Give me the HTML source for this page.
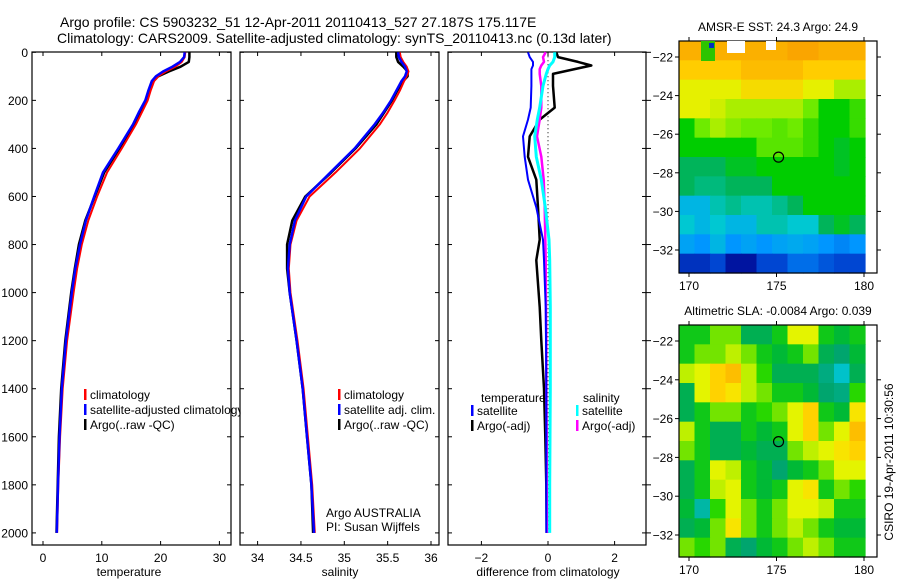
<!DOCTYPE html>
<html><head><meta charset="utf-8"><style>
body{margin:0;background:#fff;}
svg{display:block;font-family:"Liberation Sans",sans-serif;}
</style></head><body>
<svg id="fig" width="900" height="580" viewBox="0 0 900 580">
<rect width="900" height="580" fill="#fff"/>
<text x="60" y="27" font-size="14">Argo profile: CS 5903232_51 12-Apr-2011 20110413_527 27.187S 175.117E</text>
<text x="57" y="43" font-size="14">Climatology: CARS2009. Satellite-adjusted climatology: synTS_20110413.nc (0.13d later)</text>
<g id="plots"></g>
</svg>
<script>
// ---------- data ----------
const depths = [0,20,40,60,80,100,120,160,200,250,300,400,500,600,700,800,900,1000,1200,1400,1600,1800,2000];
const tempClim = [24.2,24.1,23.6,22.5,20.9,19.6,18.9,18.3,17.8,16.8,15.8,13.4,10.9,9.2,7.7,6.6,5.8,5.2,4.1,3.35,2.9,2.6,2.4];
const tempSat  = [24.1,24.0,23.3,22.0,20.4,19.2,18.5,17.9,17.4,16.3,15.3,12.8,10.2,8.7,7.3,6.3,5.5,4.9,3.9,3.2,2.8,2.55,2.35];
const tempArgo = [24.9,24.9,24.8,23.4,21.4,19.6,18.8,18.1,17.6,16.6,15.5,13.0,10.4,8.8,7.2,6.1,5.4,4.8,3.8,3.1,2.7,2.5,2.3];
const salClim = [35.64,35.65,35.68,35.72,35.74,35.72,35.69,35.64,35.58,35.50,35.41,35.18,34.90,34.60,34.45,34.38,34.36,34.38,34.46,34.53,34.58,34.63,34.66];
const salSat  = [35.62,35.63,35.66,35.70,35.72,35.70,35.66,35.60,35.54,35.45,35.35,35.12,34.84,34.56,34.43,34.37,34.35,34.37,34.45,34.52,34.57,34.62,34.65];
const salArgo = [35.60,35.60,35.62,35.68,35.73,35.73,35.68,35.61,35.55,35.46,35.37,35.13,34.85,34.55,34.40,34.34,34.34,34.37,34.45,34.52,34.57,34.62,34.64];
const diffDepths = [0,20,40,55,70,90,140,230,280,350,435,530,645,780,865,1060,1200,1400,1600,1800,2000];
const diffTempSat  = [-0.6,-0.55,-0.45,-0.45,-0.5,-0.5,-0.5,-0.52,-0.6,-0.75,-0.7,-0.6,-0.35,-0.15,-0.12,-0.07,-0.06,-0.05,-0.05,-0.05,-0.05];
const diffTempArgo = [0.25,0.3,0.9,1.3,0.8,0.15,0.15,0.2,-0.25,-0.55,-0.6,-0.35,-0.3,-0.25,-0.35,-0.25,-0.2,-0.12,-0.08,-0.05,-0.04];
const diffSalSat   = [0.2,0.2,0.15,0.05,0,-0.05,-0.15,-0.25,-0.32,-0.4,-0.35,-0.2,-0.08,0.03,0.05,0.07,0.07,0.07,0.06,0.05,0.05];
const diffSalArgo  = [-0.07,-0.15,-0.12,-0.2,-0.25,-0.25,-0.2,-0.2,-0.25,-0.33,-0.2,-0.13,-0.1,-0.08,-0.07,-0.06,-0.05,-0.05,-0.04,-0.04,-0.03];
const depthTicks = [0,200,400,600,800,1000,1200,1400,1600,1800,2000];
const tempTicks = [0,10,20,30];
const salTicks = [34,34.5,35,35.5,36];
const diffTicks = [-2,0,2];
const latTicks = [-22,-24,-26,-28,-30,-32];
const lonTicks = [170,175,180];
const sstGrid = [
[25,25,25,25,25,25,25,25.3,25.3,25,25,25],
[24.5,24.5,24.5,24.5,24.8,24.8,24.8,24.8,24.5,24.5,24.5,24.5],
[24,24,24,24,24.3,24.3,24.3,24.3,24,24,23.5,23.5],
[24,24,23.8,23.5,23.5,23.5,23.5,23.5,23,22,22,22.5],
[22,23,23.5,23.2,23,23,22.8,23,22.5,22,22,22.5],
[22,22,22,22,22,22.8,22.8,22.8,22.5,22,21.8,22],
[21.5,21.5,21.5,21.8,21.8,22,22,22,22,22,21.8,22],
[21.5,21.3,21.3,21.5,21.5,21.5,22,22,22,22,22,22],
[20.5,20.5,21,21.2,21,21,21.2,21.5,22,22,22,22],
[20.8,20.5,20.8,20.5,20.5,21,21,20.8,20.8,21.5,21.8,21.5],
[20.2,20,20.5,20,20.2,20,20.2,20.3,20.2,20,19.8,20],
[18.8,18.8,19,18.5,18.5,19,19,19.5,19.5,19.2,19,19]];
const slaGrid = [
[-0.05,-0.05,0,0,-0.1,-0.1,-0.05,0.05,0.05,-0.05,-0.08,-0.05],
[-0.05,0,0,0.02,0,-0.05,-0.08,-0.05,0,-0.1,-0.12,-0.08],
[0.02,0.05,0.1,0.12,0.02,-0.02,-0.1,-0.1,-0.1,-0.13,-0.17,-0.1],
[-0.1,0.05,0.1,0.08,0.02,0,-0.05,-0.05,-0.08,-0.12,-0.13,-0.02],
[-0.1,-0.05,0,0,-0.05,-0.02,0,0.05,0.1,-0.05,-0.08,0.08],
[0.02,-0.05,-0.1,-0.1,-0.05,-0.08,-0.05,0.05,0.1,0,0.05,0.12],
[0,-0.05,-0.1,-0.1,-0.08,-0.1,-0.1,0,0.02,0.05,0.08,0.1],
[-0.1,-0.05,0.05,0.02,-0.05,-0.08,-0.12,-0.08,-0.05,0,0.05,0.05],
[-0.1,-0.05,0.02,0.05,-0.05,-0.08,-0.05,0.05,0.08,-0.05,0,-0.02],
[-0.08,-0.15,-0.02,0.05,0,-0.05,0,0.05,0.05,0.02,-0.05,-0.05],
[-0.1,-0.08,0,0.08,0,-0.05,0,0.02,0,-0.05,-0.08,-0.08],
[0,-0.02,0,-0.1,-0.12,-0.08,-0.05,0,0.02,0,-0.05,-0.05]];
const argoLon = 175.117, argoLat = -27.187;

// ---------- helpers ----------
const NS = "http://www.w3.org/2000/svg";
const root = document.getElementById('plots');
const FS = 12;
function el(tag, attrs, parent, txt){
  const e = document.createElementNS(NS, tag);
  for (const k in attrs) e.setAttribute(k, attrs[k]);
  if (txt !== undefined) e.textContent = txt;
  (parent || root).appendChild(e);
  return e;
}
const Y0 = 52.3, YS = 0.2403;
const yD = d => Y0 + d * YS;
const xT = t => 43 + 5.88 * t;
const xS = s => 257.6 + (s - 34) * 86.7;
const xDf = v => 548 + 33.3 * v;

function frame(x0, x1, name){
  const r = el('rect', {x:x0, y:52, width:x1-x0, height:493, fill:'none', stroke:'#000', 'stroke-width':1.2});
  
  
}
function line(xs, ds, xf, color, w, name){
  const pts = xs.map((v,i) => xf(v).toFixed(1) + ',' + yD(ds[i]).toFixed(1)).join(' ');
  const p = el('polyline', {points:pts, fill:'none', stroke:color, 'stroke-width':w, 'stroke-linejoin':'round'});
  
  
}
function xTicksFor(ticks, xf, x0, x1, labelFmt, name){
  ticks.forEach(t => {
    const x = xf(t);
    el('line', {x1:x, x2:x, y1:52, y2:56, stroke:'#000'});
    el('line', {x1:x, x2:x, y1:545, y2:541, stroke:'#000'});
    const tx = el('text', {x:x, y:562, 'font-size':FS, 'text-anchor':'middle'}, root, labelFmt(t));
    
    
  });
}
function depthTicksFor(x0, x1, labels){
  depthTicks.forEach(d => {
    const y = yD(d);
    el('line', {x1:x0, x2:x0+4, y1:y, y2:y, stroke:'#000'});
    el('line', {x1:x1, x2:x1-4, y1:y, y2:y, stroke:'#000'});
    if (labels){
      const t = el('text', {x:x0-4, y:y+4.5, 'font-size':FS, 'text-anchor':'end'}, root, String(d));
      
      
    }
  });
}
function legendEntry(x, y, color, label, name){
  el('rect', {x:x, y:y-9, width:2.5, height:11, fill:color});
  const t = el('text', {x:x+6, y:y+1, 'font-size':FS}, root, label);
  
  
}
function axisTitle(x, y, s, name){
  const t = el('text', {x:x, y:y, 'font-size':FS, 'text-anchor':'middle'}, root, s);
  
  
}

// ---------- temperature panel ----------
frame(32, 231, 'temperature-axes');
depthTicksFor(32, 231, true);
xTicksFor(tempTicks, xT, 32, 231, t => String(t), 'temperature');
line(tempArgo, depths, xT, '#000', 2.5, 'temperature-argo-line');
line(tempClim, depths, xT, '#f00', 2, 'temperature-climatology-line');
line(tempSat, depths, xT, '#00f', 2.5, 'temperature-satellite-line');
axisTitle(129, 576, 'temperature', 'temperature-axis-title');
legendEntry(84, 398, '#f00', 'climatology', 'legend-climatology');
legendEntry(84, 413, '#00f', 'satellite-adjusted climatology', 'legend-satellite-adjusted');
legendEntry(84, 428, '#000', 'Argo(..raw -QC)', 'legend-argo-raw');
el('rect', {x:240.6, y:380, width:12, height:40, fill:'#fff'});

// ---------- salinity panel ----------
frame(240, 439, 'salinity-axes');
depthTicksFor(240, 439, false);
xTicksFor(salTicks, xS, 240, 439, t => String(t), 'salinity');
line(salArgo, depths, xS, '#000', 2.5, 'salinity-argo-line');
line(salClim, depths, xS, '#f00', 2, 'salinity-climatology-line');
line(salSat, depths, xS, '#00f', 2.5, 'salinity-satellite-line');
axisTitle(340, 576, 'salinity', 'salinity-axis-title');
legendEntry(338, 398, '#f00', 'climatology', 'legend-sal-climatology');
legendEntry(338, 413, '#00f', 'satellite adj. clim.', 'legend-sal-satellite');
legendEntry(338, 428, '#000', 'Argo(..raw -QC)', 'legend-sal-argo');
const a1 = el('text', {x:326, y:517, 'font-size':FS}, root, 'Argo AUSTRALIA');


const a2 = el('text', {x:326, y:531, 'font-size':FS}, root, 'PI: Susan Wijffels');



// ---------- difference panel ----------
frame(448, 646, 'difference-axes');
depthTicksFor(448, 646, false);
depthTicks.forEach(d => el('line', {x1:646, x2:651, y1:yD(d), y2:yD(d), stroke:'#000'}));
xTicksFor(diffTicks, xDf, 448, 646, t => t < 0 ? '\u2212' + Math.abs(t) : String(t), 'difference');
el('line', {x1:xDf(0), x2:xDf(0), y1:yD(0), y2:yD(2000), stroke:'#000', 'stroke-dasharray':'1,3'});
line(diffTempArgo, diffDepths, xDf, '#000', 2.5, 'diff-temp-argo-line');
line(diffSalArgo, diffDepths, xDf, '#f0f', 2.5, 'diff-sal-argo-line');
line(diffTempSat, diffDepths, xDf, '#00f', 2, 'diff-temp-satellite-line');
line(diffSalSat, diffDepths, xDf, '#0ff', 3, 'diff-sal-satellite-line');
axisTitle(548, 576, 'difference from climatology', 'difference-axis-title');
const lt = el('text', {x:481, y:402, 'font-size':FS}, root, 'temperature');


const ls = el('text', {x:583, y:402, 'font-size':FS}, root, 'salinity');


legendEntry(471, 414, '#00f', 'satellite', 'legend-diff-temp-satellite');
legendEntry(471, 429, '#000', 'Argo(-adj)', 'legend-diff-temp-argo');
legendEntry(576, 414, '#0ff', 'satellite', 'legend-diff-sal-satellite');
legendEntry(576, 429, '#f0f', 'Argo(-adj)', 'legend-diff-sal-argo');

// ---------- maps ----------
function lerpColor(stops, v){
  if (v <= stops[0][0]) return 'rgb(' + stops[0][1].join(',') + ')';
  for (let i = 1; i < stops.length; i++){
    if (v <= stops[i][0]){
      const [a, ca] = stops[i-1], [b, cb] = stops[i];
      const f = (v - a) / (b - a);
      const c = ca.map((c0, k) => Math.round(c0 + (cb[k] - c0) * f));
      return 'rgb(' + c.join(',') + ')';
    }
  }
  const c = stops[stops.length-1][1];
  return 'rgb(' + c.join(',') + ')';
}
const sstStops = [[18.3,[0,0,140]],[19,[0,70,210]],[20,[0,150,255]],[20.8,[0,200,210]],[21.5,[0,180,90]],[22,[0,205,0]],[23,[110,235,0]],[24,[230,240,0]],[24.5,[255,205,0]],[25.2,[250,165,0]]];
const slaStops = [[-0.18,[0,200,220]],[-0.12,[0,165,110]],[-0.07,[0,190,40]],[-0.02,[40,215,0]],[0.02,[190,240,0]],[0.06,[240,245,0]],[0.1,[255,210,0]],[0.14,[250,170,0]]];
function drawMap(grid, stops, x0, x1, y0, y1, dataRight, yLatTop, yLatBottom, name, title){
  const rows = grid.length, cols = grid[0].length;
  const cw = (dataRight - x0) / cols, ch = (y1 - y0) / rows;
  const g = el('g', {});
  
  
  grid.forEach((row, r) => row.forEach((v, c) => {
    const cell = el('rect', {x:(x0 + c*cw).toFixed(2), y:(y0 + r*ch).toFixed(2), width:(cw+0.6).toFixed(2), height:(ch+0.6).toFixed(2), fill:lerpColor(stops, v)}, g);
    
    
  }));
  const f = el('rect', {x:x0, y:y0, width:x1-x0, height:y1-y0, fill:'none', stroke:'#000', 'stroke-width':1.2});
  
  
  const lonX = lon => 689 + (lon - 170) * 17.5;
  const latY = lat => yLatTop + (-22 - lat) * (yLatBottom - yLatTop) / 10;
  latTicks.forEach(lat => {
    const y = latY(lat);
    el('line', {x1:x0-4, x2:x0, y1:y, y2:y, stroke:'#000'});
    el('line', {x1:x1, x2:x1+4, y1:y, y2:y, stroke:'#000'});
    const t = el('text', {x:x0-6, y:y+4.5, 'font-size':FS, 'text-anchor':'end'}, root, '\u2212' + Math.abs(lat));
    
    
  });
  lonTicks.forEach(lon => {
    const x = lonX(lon);
    el('line', {x1:x, x2:x, y1:y1, y2:y1+4, stroke:'#000'});
    el('line', {x1:x, x2:x, y1:y0, y2:y0-4, stroke:'#000'});
    const t = el('text', {x:x, y:y1+17, 'font-size':FS, 'text-anchor':'middle'}, root, String(lon));
    
    
  });
  const c = el('circle', {cx:lonX(argoLon), cy:latY(argoLat), r:5, fill:'none', stroke:'#000', 'stroke-width':1.2});
  
  
  const tt = el('text', {x:(x0+x1)/2, y:y0-10, 'font-size':FS, 'text-anchor':'middle'}, root, title);
  
  
}
drawMap(sstGrid, sstStops, 679, 877, 41, 273, 865, 57, 250, 'sst-map', 'AMSR-E SST: 24.3 Argo: 24.9');
el('rect', {x:727, y:41, width:18, height:12, fill:'#fff'});
el('rect', {x:766, y:41, width:10, height:9, fill:'#fff'});
el('rect', {x:701, y:41, width:14, height:20, fill:'#2cc400'});
el('rect', {x:709, y:43, width:5, height:5, fill:'#0030c0'});
drawMap(slaGrid, slaStops, 679, 877, 325, 557, 865, 341, 535, 'sla-map', 'Altimetric SLA: -0.0084 Argo: 0.039');
const cs = el('text', {x:0, y:0, 'font-size':FS, 'text-anchor':'middle', transform:'translate(893,462) rotate(-90)'}, root, 'CSIRO 19-Apr-2011 10:30:56');


</script>
</body></html>
